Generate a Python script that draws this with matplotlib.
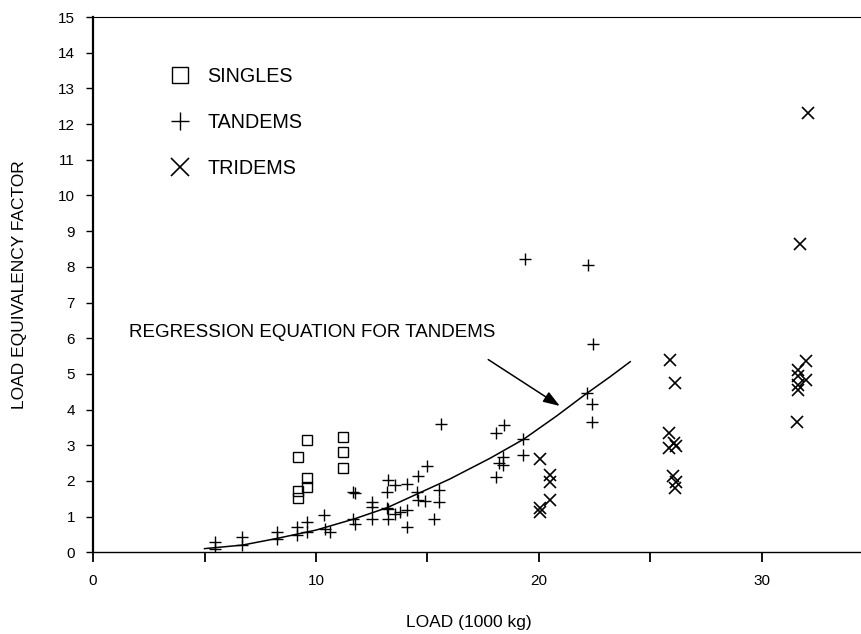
import matplotlib
matplotlib.use("Agg")
import matplotlib.pyplot as plt

plt.rcParams['font.family'] = ['Liberation Sans', 'DejaVu Sans']

# singles (load in 1000 kg, load equivalency factor)
singles_x = [9.62, 9.21, 9.62, 9.62, 9.21, 9.21, 11.2, 11.2, 11.2]
singles_y = [3.14, 2.67, 2.07, 1.83, 1.72, 1.52, 3.23, 2.81, 2.36]

# tandems
tandems_x = [5.47, 5.47, 6.67, 6.67, 8.24, 8.24, 9.13, 9.13, 9.58, 9.58,
             10.37, 10.40, 10.63, 11.67, 11.75, 11.67, 11.75, 12.50, 12.50, 12.50,
             13.17, 13.24, 13.17, 13.24, 13.24, 13.54, 14.07, 13.54, 13.77, 14.07,
             14.07, 14.54, 14.59, 14.96, 14.59, 14.89, 15.50, 15.52, 15.30, 15.60,
             18.10, 18.43, 18.40, 18.20, 18.40, 18.10, 19.27, 19.30, 19.37, 22.21,
             22.44, 22.14, 22.39, 22.39]
tandems_y = [0.29, 0.10, 0.43, 0.20, 0.57, 0.36, 0.71, 0.48, 0.85, 0.57,
             1.04, 0.66, 0.57, 1.69, 1.66, 0.94, 0.80, 1.41, 1.27, 0.94,
             1.69, 2.02, 1.25, 1.22, 0.94, 1.88, 1.91, 1.08, 1.13, 1.18,
             0.71, 1.69, 2.13, 2.41, 1.46, 1.44, 1.41, 1.74, 0.94, 3.59,
             3.35, 3.56, 2.67, 2.49, 2.44, 2.11, 2.72, 3.16, 8.23, 8.05,
             5.85, 4.45, 4.15, 3.64]

# tridems
tridems_x = [20.07, 20.49, 20.49, 20.52, 20.07, 20.04,
             25.90, 26.10, 25.84, 25.84, 26.07, 26.17, 26.02, 26.14, 26.10,
             32.08, 31.70, 31.97, 31.63, 31.63, 31.97, 31.63, 31.63, 31.60]
tridems_y = [2.61, 2.16, 1.97, 1.46, 1.25, 1.13,
             5.38, 4.75, 3.35, 2.91, 3.07, 2.97, 2.14, 1.97, 1.79,
             12.30, 8.63, 5.37, 5.10, 4.94, 4.82, 4.68, 4.54, 3.65]

# regression curve for tandems
reg_x = [5.0, 6.7, 8.2, 10.0, 11.7, 13.2, 14.6, 16.0, 17.8, 19.3, 20.8, 22.1, 23.2, 24.1]
reg_y = [0.10, 0.20, 0.38, 0.62, 0.93, 1.25, 1.65, 2.05, 2.63, 3.16, 3.82, 4.43, 4.92, 5.34]

fig = plt.figure(figsize=(8.62, 6.34), dpi=100)
ax = fig.add_axes([0.108, 0.129, 0.892, 0.844])

ax.plot(reg_x, reg_y, color='black', lw=1.1)
ax.plot(singles_x, singles_y, 's', ms=7, mfc='none', mec='black', mew=1.0,
        ls='none', label='SINGLES')
ax.plot(tandems_x, tandems_y, '+', ms=8, color='black', mew=1.0,
        ls='none', label='TANDEMS')
ax.plot(tridems_x, tridems_y, 'x', ms=8, color='black', mew=1.2,
        ls='none', label='TRIDEMS')

ax.text(1.6, 6.17, 'REGRESSION EQUATION FOR TANDEMS', fontsize=13.5,
        va='center', ha='left')
ax.annotate('', xy=(20.94, 4.10), xytext=(17.73, 5.40),
            arrowprops=dict(arrowstyle='-|>,head_length=1.0,head_width=0.35',
                            color='black', lw=1.1, shrinkA=0, shrinkB=0))

leg = ax.legend(loc='upper left', bbox_to_anchor=(0.087, 0.926), frameon=False,
                fontsize=14.2, markerscale=1.7, handlelength=1.0,
                handletextpad=0.9, labelspacing=1.38, borderpad=0)

ax.set_xlim(0, 34.5)
ax.set_ylim(0, 15)
ax.set_xticks(range(0, 35, 5))
ax.set_xticklabels(['0', '', '10', '', '20', '', '30'])
ax.set_yticks(range(0, 16))
ax.tick_params(axis='x', direction='out', length=7, width=1.3, pad=9, labelsize=11)
ax.tick_params(axis='y', direction='out', length=5, width=1.0, pad=8, labelsize=11)

ax.spines['right'].set_visible(False)
ax.spines['left'].set_linewidth(1.6)
ax.spines['bottom'].set_linewidth(1.0)
ax.spines['top'].set_linewidth(0.8)

ax.set_xlabel('LOAD (1000 kg)', fontsize=12.5)
ax.set_ylabel('LOAD EQUIVALENCY FACTOR', fontsize=12.5)
ax.xaxis.set_label_coords(0.489, -0.118)
ax.yaxis.set_label_coords(-0.086, 0.5)

fig.savefig('out.png', dpi=100)
